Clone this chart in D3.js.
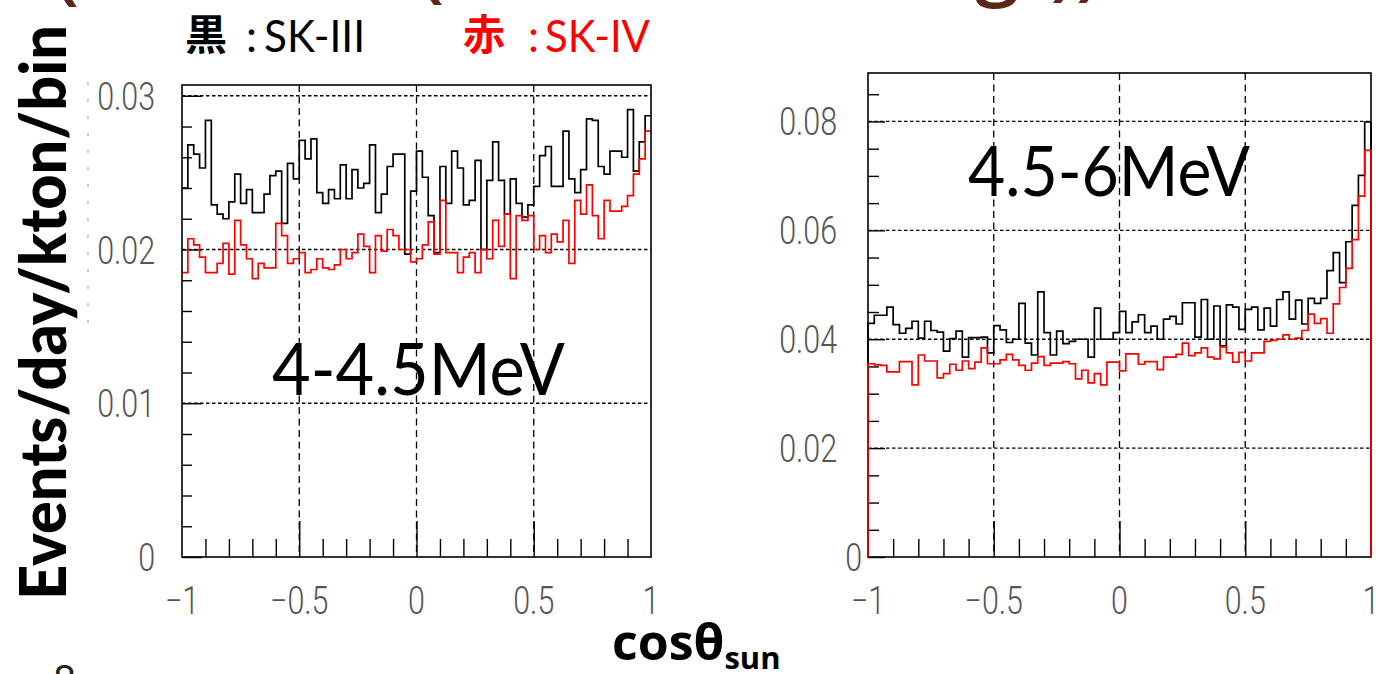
<!DOCTYPE html>
<html>
<head>
<meta charset="utf-8">
<script src="https://cdn.jsdelivr.net/npm/d3@7"></script>
<style>
  html, body { margin: 0; padding: 0; background: #fff; overflow: hidden; }
  svg { display: block; }
</style>
</head>
<body>
<svg id="chart" width="1376" height="674"></svg>
<script>
// 80 bins of cosθ_sun over [-1, 1]
const nBins = 80;
const binEdges = d3.range(nBins + 1).map(i => -1 + 2 * i / nBins);

// 4-4.5 MeV, events/day/kton/bin
const lowSK3 = [
  0.0240, 0.0268, 0.0262, 0.0253, 0.0284, 0.0229, 0.0223, 0.0220, 0.0231, 0.0249,
  0.0230, 0.0239, 0.0224, 0.0224, 0.0236, 0.0248, 0.0251, 0.0217, 0.0256, 0.0246,
  0.0271, 0.0259, 0.0272, 0.0237, 0.0230, 0.0239, 0.0233, 0.0255, 0.0233, 0.0252,
  0.0240, 0.0243, 0.0268, 0.0224, 0.0236, 0.0254, 0.0262, 0.0262, 0.0197, 0.0238,
  0.0264, 0.0247, 0.0222, 0.0198, 0.0254, 0.0230, 0.0264, 0.0253, 0.0229, 0.0232,
  0.0258, 0.0200, 0.0245, 0.0270, 0.0245, 0.0223, 0.0246, 0.0230, 0.0221, 0.0229,
  0.0241, 0.0261, 0.0267, 0.0241, 0.0241, 0.0277, 0.0246, 0.0237, 0.0252, 0.0285,
  0.0284, 0.0254, 0.0249, 0.0264, 0.0264, 0.0260, 0.0291, 0.0251, 0.0270, 0.0287
];
const lowSK4 = [
  0.0185, 0.0207, 0.0203, 0.0195, 0.0185, 0.0185, 0.0191, 0.0204, 0.0184, 0.0219,
  0.0203, 0.0194, 0.0181, 0.0191, 0.0188, 0.0188, 0.0217, 0.0209, 0.0191, 0.0194,
  0.0198, 0.0185, 0.0187, 0.0194, 0.0188, 0.0187, 0.0190, 0.0200, 0.0194, 0.0198,
  0.0210, 0.0202, 0.0185, 0.0209, 0.0199, 0.0213, 0.0209, 0.0200, 0.0200, 0.0192,
  0.0194, 0.0203, 0.0218, 0.0197, 0.0232, 0.0198, 0.0198, 0.0185, 0.0195, 0.0198,
  0.0185, 0.0200, 0.0194, 0.0219, 0.0202, 0.0223, 0.0181, 0.0222, 0.0219, 0.0222,
  0.0200, 0.0209, 0.0198, 0.0210, 0.0205, 0.0219, 0.0191, 0.0232, 0.0223, 0.0242,
  0.0222, 0.0207, 0.0232, 0.0225, 0.0225, 0.0228, 0.0235, 0.0249, 0.0259, 0.0277
];

// 4.5-6 MeV, events/day/kton/bin
const highSK3 = [
  0.0429, 0.0444, 0.0444, 0.0459, 0.0427, 0.0411, 0.0420, 0.0433, 0.0402, 0.0433,
  0.0416, 0.0413, 0.0378, 0.0401, 0.0415, 0.0367, 0.0403, 0.0403, 0.0404, 0.0375,
  0.0425, 0.0417, 0.0394, 0.0400, 0.0466, 0.0393, 0.0371, 0.0487, 0.0412, 0.0371,
  0.0415, 0.0392, 0.0396, 0.0400, 0.0400, 0.0367, 0.0457, 0.0400, 0.0400, 0.0412,
  0.0451, 0.0412, 0.0432, 0.0445, 0.0412, 0.0424, 0.0400, 0.0437, 0.0442, 0.0428,
  0.0467, 0.0467, 0.0404, 0.0473, 0.0400, 0.0461, 0.0388, 0.0463, 0.0459, 0.0418,
  0.0455, 0.0459, 0.0417, 0.0457, 0.0424, 0.0473, 0.0487, 0.0437, 0.0472, 0.0428,
  0.0475, 0.0466, 0.0475, 0.0526, 0.0559, 0.0504, 0.0579, 0.0646, 0.0701, 0.0799
];
const highSK4 = [
  0.0355, 0.0353, 0.0352, 0.0340, 0.0340, 0.0359, 0.0359, 0.0316, 0.0371, 0.0360,
  0.0360, 0.0329, 0.0337, 0.0354, 0.0343, 0.0360, 0.0346, 0.0358, 0.0384, 0.0355,
  0.0355, 0.0362, 0.0372, 0.0362, 0.0352, 0.0343, 0.0356, 0.0368, 0.0352, 0.0356,
  0.0356, 0.0359, 0.0355, 0.0327, 0.0343, 0.0320, 0.0337, 0.0316, 0.0358, 0.0358,
  0.0342, 0.0373, 0.0373, 0.0354, 0.0359, 0.0359, 0.0344, 0.0367, 0.0367, 0.0372,
  0.0393, 0.0370, 0.0375, 0.0384, 0.0367, 0.0364, 0.0386, 0.0375, 0.0358, 0.0376,
  0.0360, 0.0375, 0.0375, 0.0396, 0.0398, 0.0400, 0.0408, 0.0400, 0.0402, 0.0416,
  0.0446, 0.0429, 0.0438, 0.0411, 0.0465, 0.0495, 0.0530, 0.0583, 0.0663, 0.0747
];

// axis ticks and labels
const xTicks = [-1, -0.5, 0, 0.5, 1];
const xTickLabels = ["\u22121", "\u22120.5", "0", "0.5", "1"];
const xGridTicks = [-0.5, 0, 0.5];
const xMinorTicks = [-0.9, -0.8, -0.7, -0.6, -0.4, -0.3, -0.2, -0.1,
                     0.1, 0.2, 0.3, 0.4, 0.6, 0.7, 0.8, 0.9];
const lowYTicks = [0, 0.01, 0.02, 0.03];
const lowYTickLabels = ["0", "0.01", "0.02", "0.03"];
const lowYMinor = [0.002, 0.004, 0.006, 0.008, 0.012, 0.014, 0.016, 0.018,
                   0.022, 0.024, 0.026, 0.028];
const highYTicks = [0, 0.02, 0.04, 0.06, 0.08];
const highYTickLabels = ["0", "0.02", "0.04", "0.06", "0.08"];
const highYMinor = [0.005, 0.01, 0.015, 0.025, 0.03, 0.035, 0.045, 0.05, 0.055,
                    0.065, 0.07, 0.075, 0.085];

const panelLabels = ["4-4.5MeV", "4.5-6MeV"];
const seriesNames = ["SK-III", "SK-IV"];
const seriesMarks = ["\u9ed2", "\u8d64"];
const seriesColors = ["#000000", "#ff0000"];

const svg = d3.select("#chart");
const tickFont = "Roboto, 'Liberation Sans', sans-serif";
const textFont = "Lato, 'Open Sans', sans-serif";

function drawPanel(cfg) {
  const { x, y, sk3, sk4, yTicks, yLabels, yMinor, yMajorLen, yMinorLen, toZero, yLabelGap, frameOnTop } = cfg;
  const [x0, x1] = x.range();
  const [yb, yt] = y.range();
  const g = svg.append("g");

  const frame = () => g.append("rect")
    .attr("x", x0).attr("y", yt).attr("width", x1 - x0).attr("height", yb - yt)
    .attr("fill", "none").attr("stroke", "#000").attr("stroke-width", 1.6);

  // dashed grid
  g.append("g").selectAll("line").data(yTicks.filter(v => v > 0)).join("line")
    .attr("x1", x0).attr("x2", x1).attr("y1", d => y(d)).attr("y2", d => y(d))
    .attr("stroke", "#000").attr("stroke-width", 1.3).attr("stroke-dasharray", "3.5,2.5");
  g.append("g").selectAll("line").data(xGridTicks).join("line")
    .attr("x1", d => x(d)).attr("x2", d => x(d)).attr("y1", yt).attr("y2", yb)
    .attr("stroke", "#000").attr("stroke-width", 1.3).attr("stroke-dasharray", "7,4.5");

  // inward-pointing ticks
  const tickStyle = s => {
    s.select(".domain").remove();
    s.selectAll("line").attr("stroke", "#000").attr("stroke-width", 1.4);
  };
  g.append("g").attr("transform", `translate(${x0},0)`)
    .call(d3.axisLeft(y).tickValues(yTicks).tickSize(-yMajorLen).tickFormat(""))
    .call(tickStyle);
  g.append("g").attr("transform", `translate(${x0},0)`)
    .call(d3.axisLeft(y).tickValues(yMinor).tickSize(-yMinorLen).tickFormat(""))
    .call(tickStyle);
  g.append("g").attr("transform", `translate(0,${yb})`)
    .call(d3.axisBottom(x).tickValues(xGridTicks).tickSize(-36).tickFormat(""))
    .call(tickStyle);
  g.append("g").attr("transform", `translate(0,${yb})`)
    .call(d3.axisBottom(x).tickValues(xMinorTicks).tickSize(-18).tickFormat(""))
    .call(tickStyle);

  if (!frameOnTop) frame();

  // step histograms
  const line = d3.line().x(d => x(d[0])).y(d => y(d[1])).curve(d3.curveStepAfter);
  const steps = vals => {
    const pts = vals.map((v, i) => [binEdges[i], v]);
    pts.push([binEdges[nBins], vals[nBins - 1]]);
    if (toZero) { pts.unshift([binEdges[0], 0]); pts.push([binEdges[nBins], 0]); }
    return pts;
  };
  [sk3, sk4].forEach((vals, k) => {
    g.append("path").attr("d", line(steps(vals)))
      .attr("fill", "none").attr("stroke", seriesColors[k]).attr("stroke-width", 1.7)
      .attr("stroke-linejoin", "miter");
  });

  if (frameOnTop) frame();

  // tick labels (thin, narrow numerals)
  g.append("g").selectAll("text").data(yTicks).join("text")
    .attr("transform", d => `translate(${x0 - yLabelGap(d)},${y(d) + 14}) scale(0.8,1)`)
    .attr("text-anchor", "end")
    .attr("font-family", tickFont).attr("font-weight", 300).attr("font-size", 38)
    .attr("fill", "#555")
    .text((d, i) => yLabels[i]);
  g.append("g").selectAll("text").data(xTicks).join("text")
    .attr("transform", d => `translate(${x(d)},${yb + 57}) scale(0.8,1)`)
    .attr("text-anchor", "middle")
    .attr("font-family", tickFont).attr("font-weight", 300).attr("font-size", 38)
    .attr("fill", "#555")
    .text((d, i) => xTickLabels[i]);
}

// left: 4-4.5 MeV
const xLow = d3.scaleLinear().domain([-1, 1]).range([182, 651]);
const yLow = d3.scaleLinear().domain([0, 0.0307]).range([557, 85]);
drawPanel({
  x: xLow, y: yLow, sk3: lowSK3, sk4: lowSK4,
  yTicks: lowYTicks, yLabels: lowYTickLabels, yMinor: lowYMinor,
  yMajorLen: 20, yMinorLen: 10, toZero: false, frameOnTop: true,
  yLabelGap: () => 27
});

// right: 4.5-6 MeV
const xHigh = d3.scaleLinear().domain([-1, 1]).range([868, 1371]);
const yHigh = d3.scaleLinear().domain([0, 0.0889]).range([557, 73]);
drawPanel({
  x: xHigh, y: yHigh, sk3: highSK3, sk4: highSK4,
  yTicks: highYTicks, yLabels: highYTickLabels, yMinor: highYMinor,
  yMajorLen: 17, yMinorLen: 11, toZero: true, frameOnTop: false,
  yLabelGap: d => d === 0 ? 6 : 31
});

// energy range labels
svg.append("text").attr("x", 272).attr("y", 395)
  .attr("font-family", textFont).attr("font-size", 72).attr("fill", "#000")
  .attr("textLength", 293).attr("lengthAdjust", "spacingAndGlyphs")
  .text(panelLabels[0]);
svg.append("text").attr("x", 968).attr("y", 196)
  .attr("font-family", textFont).attr("font-size", 70).attr("fill", "#000")
  .attr("textLength", 282).attr("lengthAdjust", "spacingAndGlyphs")
  .text(panelLabels[1]);

// series key: 黒 : SK-III   赤 : SK-IV
const keyPos = [{ mark: 185, colon: 246, name: 264, nameLen: 101 },
                { mark: 463, colon: 528, name: 545, nameLen: 105 }];
keyPos.forEach((p, k) => {
  svg.append("text").attr("x", p.mark).attr("y", 50)
    .attr("font-family", "'Noto Sans CJK JP', sans-serif").attr("font-weight", 700)
    .attr("font-size", 42).attr("fill", seriesColors[k]).text(seriesMarks[k]);
  svg.append("text").attr("x", p.colon).attr("y", 52)
    .attr("font-family", textFont).attr("font-size", 44).attr("fill", seriesColors[k]).text(":");
  svg.append("text").attr("x", p.name).attr("y", 52)
    .attr("font-family", textFont).attr("font-size", 44).attr("fill", seriesColors[k])
    .attr("textLength", p.nameLen).attr("lengthAdjust", "spacingAndGlyphs")
    .text(seriesNames[k]);
});

// axis titles
svg.append("text")
  .attr("transform", "translate(66,600) rotate(-90)")
  .attr("font-family", textFont).attr("font-weight", 900).attr("font-size", 64)
  .attr("fill", "#000")
  .attr("textLength", 575).attr("lengthAdjust", "spacingAndGlyphs")
  .text("Events/day/kton/bin");

const xTitle = svg.append("text").attr("x", 612).attr("y", 660)
  .attr("font-family", "'Open Sans', sans-serif").attr("font-weight", 700)
  .attr("font-size", 50).attr("fill", "#000");
xTitle.append("tspan").text("cos\u03b8");
xTitle.append("tspan").attr("font-size", 31).attr("dy", 9).text("sun");

// slide title remnants along the top edge
const titleBits = [{ x: 54, y: -6, t: "(" }, { x: 419, y: -8, t: "(" }, { x: 975, y: -10, t: "g/))" }];
svg.append("g").selectAll("text").data(titleBits).join("text")
  .attr("x", d => d.x).attr("y", d => d.y)
  .attr("font-family", "'Open Sans', sans-serif").attr("font-weight", 600)
  .attr("font-size", 80).attr("fill", "#5b2716")
  .text(d => d.t);

// page number peeking in at the bottom
svg.append("text").attr("x", 53).attr("y", 694)
  .attr("font-family", textFont).attr("font-size", 40).attr("fill", "#222").text("8");

// faint dashed guide left of the key
svg.append("line").attr("x1", 88).attr("x2", 88).attr("y1", 82).attr("y2", 328)
  .attr("stroke", "#aaa").attr("stroke-width", 1.2).attr("stroke-dasharray", "3,14");
</script>
</body>
</html>
